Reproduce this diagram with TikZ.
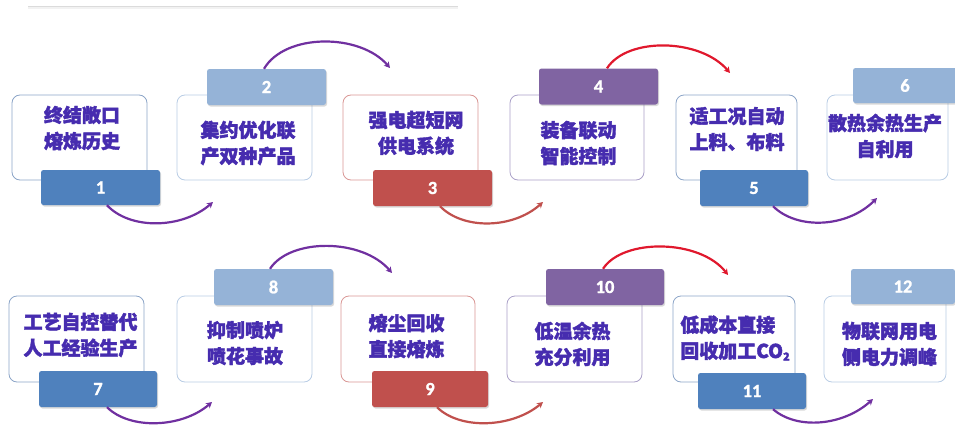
\documentclass[tikz,border=0pt]{standalone}
\usepackage{fontspec}
\newfontfamily\cjk{Noto Sans CJK SC}[BoldFeatures={FakeBold=2}, UprightFeatures={FakeBold=3}]
\newfontfamily\numfont{Carlito}[FakeBold=1.2]
\usetikzlibrary{arrows.meta,shadows}
\definecolor{tabblue}{RGB}{79,129,189}
\definecolor{tablight}{RGB}{149,179,215}
\definecolor{tabred}{RGB}{192,80,77}
\definecolor{tabpurple}{RGB}{128,100,162}
\definecolor{txt}{RGB}{70,44,175}
\definecolor{arcpurple}{RGB}{112,48,160}
\definecolor{arcred}{RGB}{192,80,77}
\definecolor{arcbright}{RGB}{224,24,45}
\definecolor{bdblue}{RGB}{140,165,200}
\definecolor{bdlight}{RGB}{185,205,229}
\definecolor{bdred}{RGB}{217,150,148}
\definecolor{bdpurple}{RGB}{170,160,200}
\begin{document}
\begin{tikzpicture}[x=1pt,y=-1pt,
  stepbox/.style={draw, line width=0.8pt, rounded corners=8pt, fill=white, inner sep=0pt},
  tabbox/.style={rounded corners=2.5pt, inner sep=0pt, text=white,
    font=\numfont\bfseries\fontsize{18.5}{18.5}\selectfont,
    drop shadow={shadow xshift=1pt, shadow yshift=-1.5pt, opacity=0.3}},
  lbl/.style={font=\cjk\bfseries\fontsize{19}{26}\selectfont, text=txt, align=center, inner sep=0pt},
  flow/.style={line width=2.2pt, -{Stealth[length=6pt,width=6.5pt]}}]
\useasboundingbox (0,0) rectangle (955,428);
% top rule
\draw[line width=2pt, black!5] (28,8.5) -- (458,8.5);
\draw[line width=0.7pt, black!14] (28,6.5) -- (458,6.5);
% ---- row 1 boxes
\node[stepbox, draw=bdblue,   minimum width=135pt, minimum height=85pt] (b1) at (79.5,137.5) {};
\node[stepbox, draw=bdlight,  minimum width=135pt, minimum height=85pt] (b2) at (244.5,137.5) {};
\node[stepbox, draw=bdred,    minimum width=135pt, minimum height=85pt] (b3) at (410.5,137.5) {};
\node[stepbox, draw=bdpurple, minimum width=134pt, minimum height=85pt] (b4) at (577,137.5) {};
\node[stepbox, draw=bdblue,   minimum width=121pt, minimum height=85pt] (b5) at (736.5,137.5) {};
\node[stepbox, draw=bdlight,  minimum width=121pt, minimum height=85pt] (b6) at (887.5,137.5) {};
% ---- row 2 boxes
\node[stepbox, draw=bdblue,   minimum width=135pt, minimum height=86pt] (b7) at (76.5,339) {};
\node[stepbox, draw=bdlight,  minimum width=135pt, minimum height=86pt] (b8) at (244.5,339) {};
\node[stepbox, draw=bdred,    minimum width=134pt, minimum height=86pt] (b9) at (408,339) {};
\node[stepbox, draw=bdpurple, minimum width=135pt, minimum height=86pt] (b10) at (574.5,339) {};
\node[stepbox, draw=bdblue,   minimum width=122pt, minimum height=86pt] (b11) at (734,339) {};
\node[stepbox, draw=bdlight,  minimum width=122pt, minimum height=86pt] (b12) at (885,339) {};
% ---- labels
\node[lbl] (l1) at (82,128) {终结敞口\\熔炼历史};
\node[lbl] (l2) at (248,143) {集约优化联\\产双种产品};
\node[lbl] (l3) at (416,133) {强电超短网\\供电系统};
\node[lbl] (l4) at (578.5,143) {装备联动\\智能控制};
\node[lbl] (l5) at (737,129) {适工况自动\\上料、布料};
\node[lbl] (l6) at (885,136) {散热余热生产\\自利用};
\node[lbl] (l7) at (80.5,335) {工艺自控替代\\人工经验生产};
\node[lbl] (l8) at (245,343) {抑制喷炉\\喷花事故};
\node[lbl] (l9) at (406.5,336) {熔尘回收\\直接熔炼};
\node[lbl] (l10) at (572.5,344) {低温余热\\充分利用};
\node[lbl, align=left] (l11) at (735,338) {低成本直接\\回收加工CO\raisebox{-0.25ex}{\fontsize{11}{11}\selectfont 2}};
\node[lbl] (l12) at (889.5,344) {物联网用电\\侧电力调峰};
% ---- tabs
\node[tabbox, fill=tabblue,   minimum width=119pt, minimum height=35pt] (t1) at (100.5,187.5) {1};
\node[tabbox, fill=tablight,  minimum width=119pt, minimum height=36pt] (t2) at (266.5,87) {2};
\node[tabbox, fill=tabred,    minimum width=119pt, minimum height=36pt] (t3) at (432.5,188) {3};
\node[tabbox, fill=tabpurple, minimum width=119pt, minimum height=36pt] (t4) at (598.5,86.5) {4};
\node[tabbox, fill=tabblue,   minimum width=108pt, minimum height=36pt] (t5) at (754,188) {5};
\node[tabbox, fill=tablight,  minimum width=104pt, minimum height=35pt] (t6) at (905,85.5) {6};
\node[tabbox, fill=tabblue,   minimum width=118pt, minimum height=36pt] (t7) at (98,389) {7};
\node[tabbox, fill=tablight,  minimum width=119pt, minimum height=36pt] (t8) at (273.5,287) {8};
\node[tabbox, fill=tabred,    minimum width=116pt, minimum height=36pt] (t9) at (430,389) {9};
\node[tabbox, fill=tabpurple, minimum width=118pt, minimum height=36pt] (t10) at (605,287) {10};
\node[tabbox, fill=tabblue,   minimum width=108pt, minimum height=36pt] (t11) at (752,391) {11};
\node[tabbox, fill=tablight,  minimum width=104pt, minimum height=35pt] (t12) at (903,286.5) {12};
% ---- arrow end points
\coordinate (e2) at (213,202);
\coordinate (e3) at (390,68);
\coordinate (e4) at (543,202);
\coordinate (e5) at (730,73);
\coordinate (e6) at (877,198);
\coordinate (e8) at (212,402);
\coordinate (e9) at (392,273);
\coordinate (e10) at (543,402);
\coordinate (e11) at (728,275);
\coordinate (e12) at (873,399);
% ---- arcs row 1
\draw[flow, arcpurple] ([xshift=6.5pt]t1.south) .. controls (130,230) and (182,229) .. (e2);
\draw[flow, arcpurple] ([xshift=-2.5pt]t2.north) .. controls (285,33) and (360,33) .. (e3);
\draw[flow, arcred]    ([xshift=7.5pt]t3.south) .. controls (463,230) and (513,229) .. (e4);
\draw[flow, arcbright] ([xshift=8.5pt]t4.north) .. controls (627,37) and (700,38) .. (e5);
\draw[flow, arcpurple] ([xshift=19pt]t5.south) .. controls (797,230) and (847,228) .. (e6);
% ---- arcs row 2
\draw[flow, arcpurple] ([xshift=9pt]t7.south) .. controls (130,430) and (182,428) .. (e8);
\draw[flow, arcpurple] ([xshift=-3.5pt]t8.north) .. controls (290,238) and (362,238) .. (e9);
\draw[flow, arcred]    ([xshift=7pt]t9.south) .. controls (460,430) and (512,428) .. (e10);
\draw[flow, arcbright] ([xshift=-2pt]t10.north) .. controls (623,238) and (700,239) .. (e11);
\draw[flow, arcpurple] ([xshift=21pt]t11.south) .. controls (797,430) and (843,426) .. (e12);
\end{tikzpicture}
\end{document}
